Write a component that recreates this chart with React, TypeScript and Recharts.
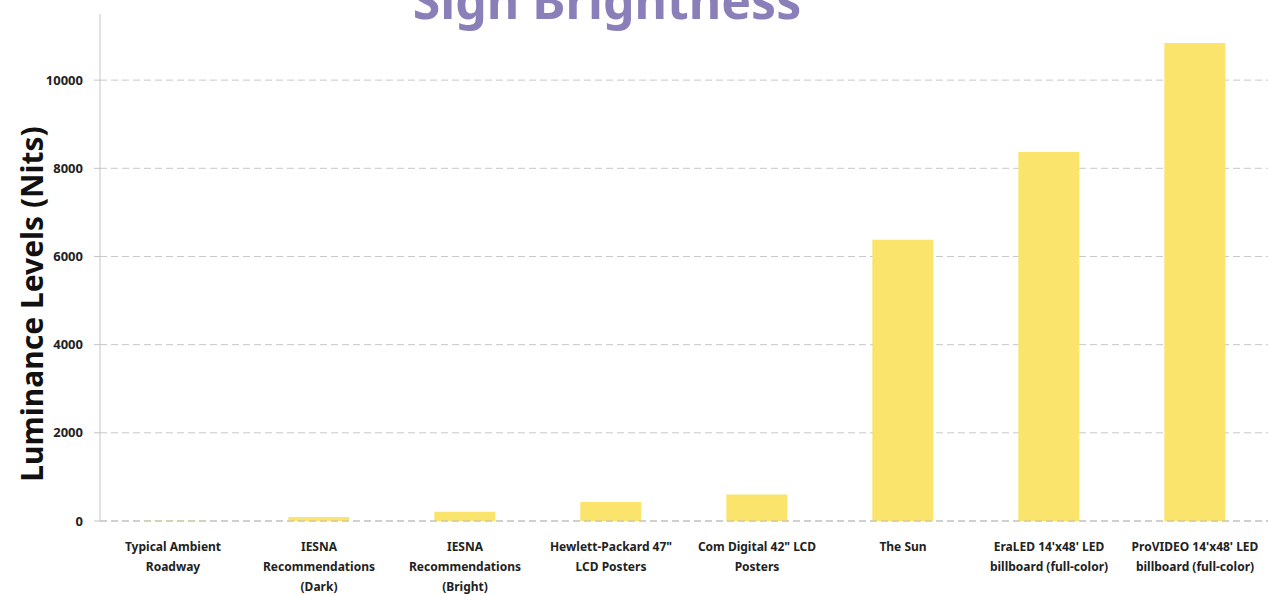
import React from "react";
import { BarChart, Bar, XAxis, YAxis, CartesianGrid } from "recharts";

const categories = [
  ["Typical Ambient", "Roadway"],
  ["IESNA", "Recommendations", "(Dark)"],
  ["IESNA", "Recommendations", "(Bright)"],
  ["Hewlett-Packard 47\"", "LCD Posters"],
  ["Com Digital  42\" LCD", "Posters"],
  ["The Sun"],
  ["EraLED 14'x48' LED", "billboard (full-color)"],
  ["ProVIDEO 14'x48' LED", "billboard (full-color)"],
];
const luminance = [5, 90, 210, 430, 600, 6380, 8370, 10840];
const yTicks = [0, 2000, 4000, 6000, 8000, 10000];

const data = categories.map((lines, i) => ({ name: lines.join(" "), idx: i, value: luminance[i] }));

const font = "'Noto Sans', 'Open Sans', sans-serif";

// multi-line category labels under each bar
const CatTick = (props: any) => {
  const { x, y, payload } = props;
  const lines = categories[payload.index] ?? [payload.value];
  return (
    <g transform={`translate(${x},${y})`}>
      {lines.map((l, i) => (
        <text key={i} x={0} y={i * 20} dy={16} textAnchor="middle" fontSize={12} fontWeight={700} fill="#222" fontFamily={font}>
          {l}
        </text>
      ))}
    </g>
  );
};

export default function App() {
  return (
    <div style={{ position: "fixed", left: 0, top: 0, width: 1268, height: 595, background: "#fff", overflow: "hidden" }}>
      <div
        style={{
          position: "absolute",
          left: 0,
          width: 1214,
          top: -32,
          textAlign: "center",
          fontFamily: font,
          fontWeight: 700,
          fontSize: 50,
          color: "#8b7fba",
          lineHeight: "64px",
        }}
      >
        Sign Brightness
      </div>
      <div
        style={{
          position: "absolute",
          left: 31,
          top: 304,
          transform: "translate(-50%, -50%) rotate(-90deg)",
          whiteSpace: "nowrap",
          fontFamily: font,
          fontWeight: 700,
          fontSize: 30,
          color: "#111",
        }}
      >
        Luminance Levels (Nits)
      </div>
      <BarChart
        width={1268}
        height={595}
        data={data}
        margin={{ top: 14, right: 0, left: 0, bottom: 0 }}
        barCategoryGap="29%"
      >
        <CartesianGrid vertical={false} horizontalValues={yTicks} stroke="#c8c8c8" strokeDasharray="7 4" />
        <XAxis
          dataKey="name"
          height={74}
          interval={0}
          tickLine={false}
          axisLine={{ stroke: "#bdbdbd", strokeDasharray: "7 4" }}
          tick={<CatTick />}
          tickMargin={8}
        />
        <YAxis
          width={100}
          domain={[0, 11500]}
          ticks={yTicks}
          allowDataOverflow
          axisLine={{ stroke: "#c4c4c4" }}
          tickLine={{ stroke: "#c4c4c4" }}
          tickSize={6}
          tickMargin={11}
          tick={{ fontSize: 13, fontWeight: 700, fill: "#222", fontFamily: font }}
        />
        <Bar dataKey="value" fill="#fbe46c" isAnimationActive={false} />
      </BarChart>
    </div>
  );
}
